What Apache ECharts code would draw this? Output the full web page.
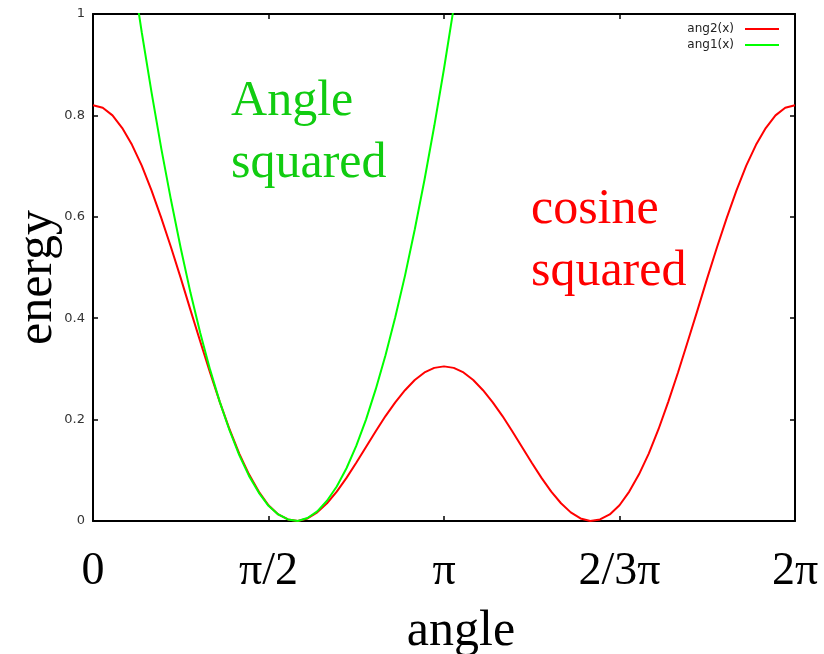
<!DOCTYPE html>
<html>
<head>
<meta charset="utf-8">
<script src="https://cdn.jsdelivr.net/npm/echarts@6/dist/echarts.min.js"></script>
<style>
html,body{margin:0;padding:0;background:#fff;}
#chart{width:824px;height:654px;}
</style>
</head>
<body>
<div id="chart"></div>
<script>
// ---- data (angles in degrees, energy values) ----
const xTickValues = [0, 90, 180, 270, 360];
const xTickLabels = ['0', 'π/2', 'π', '2/3π', '2π'];
const yTickLabels = ['0', '0.2', '0.4', '0.6', '0.8', '1'];

const redAngles = [0,5,10,15,20,25,30,35,40,45,50,55,60,65,70,75,80,85,90,95,100,105,110,115,120,125,130,135,140,145,150,155,160,165,170,175,180,
  185,190,195,200,205,210,215,220,225,230,235,240,245,250,255,260,265,270,275,280,285,290,295,300,305,310,315,320,325,330,335,340,345,350,355,360];
const redValues = [0.820,0.815,0.800,0.775,0.742,0.701,0.652,0.598,0.540,0.479,0.416,0.354,0.293,0.235,0.181,0.133,0.092,0.058,0.031,0.013,0.003,0.000,0.005,0.017,0.035,0.058,0.085,0.115,0.146,0.177,0.207,0.234,0.258,0.278,0.293,0.302,0.305,
  0.302,0.293,0.278,0.258,0.234,0.207,0.177,0.146,0.115,0.085,0.058,0.035,0.017,0.005,0.000,0.003,0.013,0.031,0.058,0.092,0.133,0.181,0.235,0.293,0.354,0.416,0.479,0.540,0.598,0.652,0.701,0.742,0.775,0.800,0.815,0.820];

const greenAngles = [20,25,30,35,40,45,50,55,60,65,70,75,80,85,90,95,100,105,110,115,120,125,130,135,140,145,150,155,160,165,170,175,180,185,190];
const greenValues = [1.090,0.964,0.846,0.735,0.633,0.538,0.450,0.371,0.299,0.235,0.179,0.130,0.089,0.056,0.030,0.013,0.003,0.000,0.006,0.019,0.040,0.068,0.104,0.148,0.200,0.260,0.327,0.402,0.484,0.575,0.673,0.779,0.892,1.013,1.142];

const seriesNames = ['ang2(x)', 'ang1(x)'];
const annotations = [
  { text: 'Angle\nsquared', angle: 70.8, value: 0.887, color: '#11cc11' },
  { text: 'cosine\nsquared', angle: 224.6, value: 0.674, color: '#ff0000' }
];

// ---- chart ----
const redData = redAngles.map((a, i) => [a, redValues[i]]);
const greenData = greenAngles.map((a, i) => [a, greenValues[i]]);
const labelMap = {};
xTickValues.forEach((v, i) => { labelMap[v] = xTickLabels[i]; });

const serif = '"Liberation Serif", "Times New Roman", serif';
const sans = '"DejaVu Sans", sans-serif';

const chart = echarts.init(document.getElementById('chart'), null, { renderer: 'canvas' });
const axisLine = { show: true, onZero: false, lineStyle: { color: '#000', width: 2 } };
const tick = { show: true, inside: true, length: 5, lineStyle: { color: '#000', width: 1.5 } };

chart.setOption({
  animation: false,
  backgroundColor: '#fff',
  grid: { left: 93, right: 29, top: 14, bottom: 133, containLabel: false, outerBoundsMode: 'none' },
  legend: {
    data: seriesNames,
    orient: 'vertical',
    right: 40,
    top: 18,
    align: 'right',
    icon: 'rect',
    itemWidth: 34,
    itemHeight: 2,
    itemGap: 4,
    textStyle: { fontFamily: sans, fontSize: 12, color: '#222', padding: [0, 6, 0, 0] }
  },
  xAxis: [
    {
      type: 'value', min: 0, max: 360, interval: 90, position: 'bottom',
      axisLine, axisTick: tick, splitLine: { show: false },
      axisLabel: {
        margin: 28, fontFamily: serif, fontSize: 46, color: '#000',
        formatter: v => labelMap[v] !== undefined ? labelMap[v] : ''
      },
      name: 'angle', nameLocation: 'middle', nameGap: 86,
      nameTextStyle: { fontFamily: serif, fontSize: 50, color: '#000', padding: [0, 0, 0, 34] }
    },
    {
      type: 'value', min: 0, max: 360, interval: 90, position: 'top',
      axisLine, axisTick: tick, splitLine: { show: false }, axisLabel: { show: false }
    }
  ],
  yAxis: [
    {
      type: 'value', min: 0, max: 1, interval: 0.2, position: 'left',
      axisLine, axisTick: tick, splitLine: { show: false },
      axisLabel: {
        margin: 8, fontFamily: sans, fontSize: 13, color: '#333',
        formatter: v => yTickLabels[Math.round(v / 0.2)]
      },
      name: 'energy', nameLocation: 'middle', nameGap: 30, nameRotate: 90, nameMoveOverlap: false,
      nameTextStyle: { fontFamily: serif, fontSize: 50, color: '#000', padding: [0, 20, 0, 0] }
    },
    {
      type: 'value', min: 0, max: 1, interval: 0.2, position: 'right',
      axisLine, axisTick: tick, splitLine: { show: false }, axisLabel: { show: false }
    }
  ],
  series: [
    {
      name: seriesNames[0], type: 'line', data: redData, xAxisIndex: 0, yAxisIndex: 0,
      symbol: 'none', smooth: false, clip: true,
      lineStyle: { color: '#ff0000', width: 2 }, itemStyle: { color: '#ff0000' }
    },
    {
      name: seriesNames[1], type: 'line', data: greenData, xAxisIndex: 0, yAxisIndex: 0,
      symbol: 'none', smooth: false, clip: true,
      lineStyle: { color: '#00ff00', width: 2 }, itemStyle: { color: '#00ff00' }
    }
  ]
});

const graphics = annotations.map(a => {
  const p = chart.convertToPixel({ xAxisIndex: 0, yAxisIndex: 0 }, [a.angle, a.value]);
  return {
    type: 'text', x: p[0], y: p[1], z: 10,
    style: {
      text: a.text, fill: a.color, font: '50px ' + serif,
      align: 'left', verticalAlign: 'top', lineHeight: 62
    }
  };
});
chart.setOption({ graphic: graphics });
</script>
</body>
</html>
